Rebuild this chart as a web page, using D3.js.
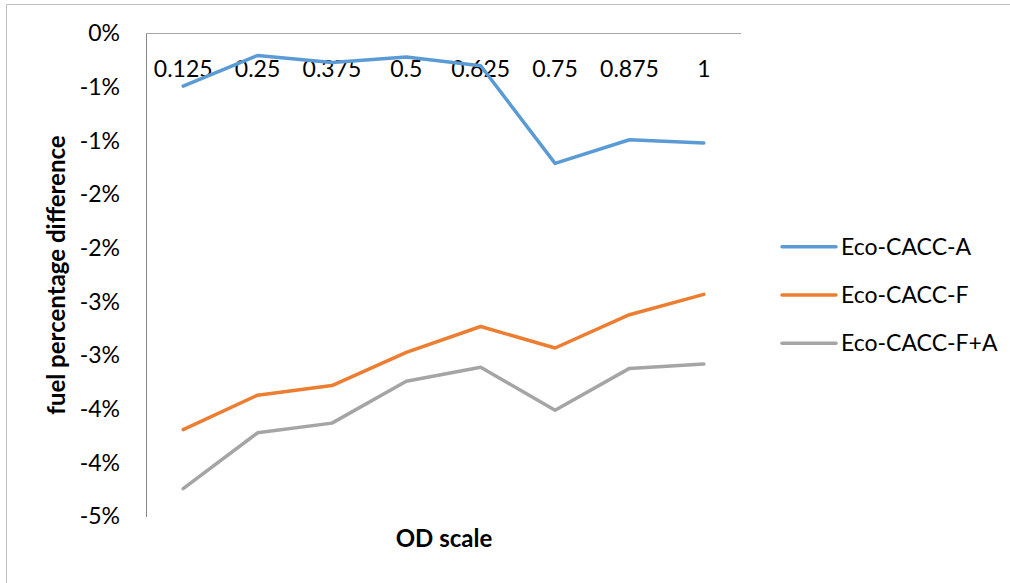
<!DOCTYPE html>
<html>
<head>
<meta charset="utf-8">
<script src="https://cdn.jsdelivr.net/npm/d3@7"></script>
<style>
  html, body { margin: 0; padding: 0; background: #fff; }
  svg { display: block; }
</style>
</head>
<body>
<svg id="chart" width="1010" height="583"></svg>
<script>
// ---- data ----
const categories = ["0.125", "0.25", "0.375", "0.5", "0.625", "0.75", "0.875", "1"];
const seriesNames = ["Eco-CACC-A", "Eco-CACC-F", "Eco-CACC-F+A"];
const ecoCaccA  = [-0.49, -0.205, -0.27, -0.22, -0.30, -1.21, -0.99, -1.02];
const ecoCaccF  = [-3.69, -3.37, -3.28, -2.97, -2.73, -2.93, -2.62, -2.43];
const ecoCaccFA = [-4.24, -3.72, -3.63, -3.24, -3.11, -3.51, -3.12, -3.08];
const yTickValues = [0, -0.5, -1, -1.5, -2, -2.5, -3, -3.5, -4, -4.5];
const yTickLabels = ["0%", "-1%", "-1%", "-2%", "-2%", "-3%", "-3%", "-4%", "-4%", "-5%"];
const colors = ["#5B9BD5", "#ED7D31", "#A5A5A5"];

const series = seriesNames.map((name, i) => ({
  name, color: colors[i], values: [ecoCaccA, ecoCaccF, ecoCaccFA][i]
}));

const svg = d3.select("#chart");
const font = "Lato, 'Open Sans', sans-serif";
const fs = 23, fsBold = 24;

// outer chart border
svg.append("path")
  .attr("d", "M6.5,600 V4.5 H1020")
  .attr("fill", "none").attr("stroke", "#BFBFBF").attr("stroke-width", 1);

const plotLeft = 146, plotRight = 741, plotTop = 33.5, plotBottom = 516.5;
const x = d3.scaleBand().domain(categories).range([plotLeft, plotRight]);
const y = d3.scaleLinear().domain([-4.5, 0]).range([plotBottom, plotTop]);

// top category axis line (at 0)
svg.append("line")
  .attr("x1", plotLeft).attr("x2", plotRight)
  .attr("y1", y(0)).attr("y2", y(0))
  .attr("stroke", "#A6A6A6").attr("stroke-width", 1);

// x axis labels (below axis line at top)
const xAxis = d3.axisBottom(x).tickSize(0).tickPadding(0);
const gx = svg.append("g").attr("transform", `translate(0,${y(0)})`).call(xAxis);
gx.select(".domain").remove();
gx.selectAll("text")
  .attr("y", 43).attr("dy", 0)
  .attr("font-family", font).attr("font-size", fs).attr("fill", "#000");

// y axis
const yAxis = d3.axisLeft(y).tickValues(yTickValues)
  .tickFormat((d, i) => yTickLabels[i]).tickSize(0).tickPadding(26);
const gy = svg.append("g").attr("transform", `translate(${plotLeft},0)`).call(yAxis);
gy.select(".domain").attr("stroke", "#868686").attr("stroke-width", 1);
gy.selectAll("text")
  .attr("font-family", font).attr("font-size", fs).attr("fill", "#000");

// lines
const line = d3.line()
  .x((d, i) => x(categories[i]) + x.bandwidth() / 2)
  .y(d => y(d));

svg.append("g").selectAll("path")
  .data(series).join("path")
  .attr("d", d => line(d.values))
  .attr("fill", "none")
  .attr("stroke", d => d.color)
  .attr("stroke-width", 3.5)
  .attr("stroke-linejoin", "round")
  .attr("stroke-linecap", "round");

// axis titles
svg.append("text")
  .attr("transform", "translate(65,275) rotate(-90)")
  .attr("text-anchor", "middle")
  .attr("font-family", font).attr("font-weight", "bold").attr("font-size", fsBold)
  .text("fuel percentage difference");

svg.append("text")
  .attr("x", 444).attr("y", 547)
  .attr("text-anchor", "middle")
  .attr("font-family", font).attr("font-weight", "bold").attr("font-size", fsBold)
  .text("OD scale");

// legend
const legend = svg.append("g").selectAll("g")
  .data(series).join("g")
  .attr("transform", (d, i) => `translate(782,${246.7 + i * 48.3})`);
legend.append("line")
  .attr("x1", 0).attr("x2", 54).attr("y1", 0).attr("y2", 0)
  .attr("stroke", d => d.color).attr("stroke-width", 3.5)
  .attr("stroke-linecap", "round");
legend.append("text")
  .attr("x", 59).attr("y", 0).attr("dy", "0.35em")
  .attr("font-family", font).attr("font-size", fs).attr("fill", "#000")
  .text(d => d.name);
</script>
</body>
</html>
